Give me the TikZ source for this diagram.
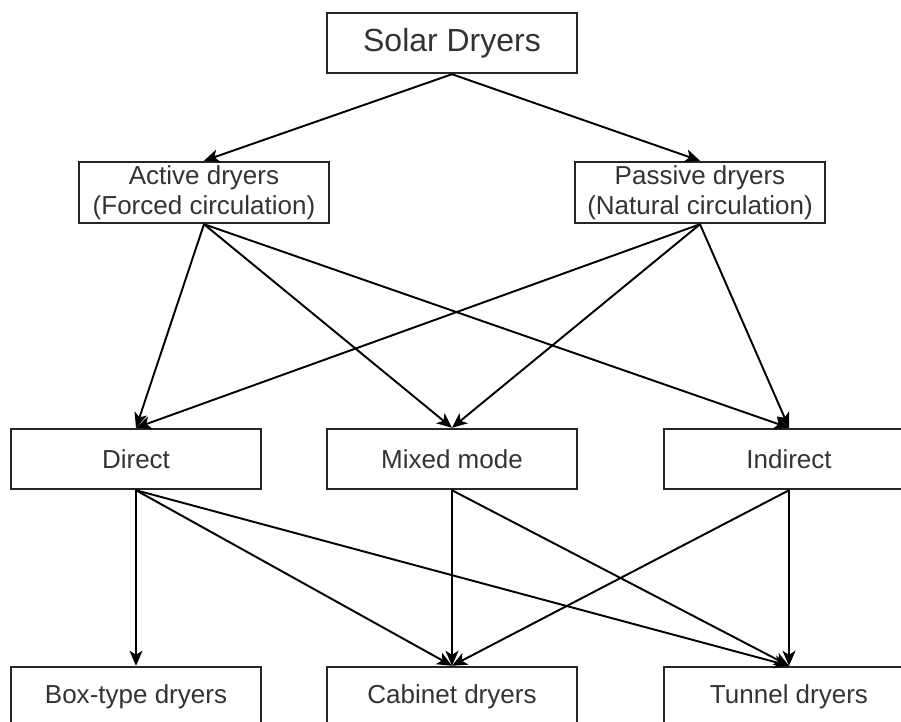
\documentclass[tikz,border=0pt]{standalone}
\usepackage{fontspec}
\setmainfont{Liberation Sans}
\usepackage{tikz}
\usetikzlibrary{positioning, arrows.meta}

\begin{document}
\begin{tikzpicture}[
  block/.style={
    rectangle, draw=black!85, line width=1.4pt, fill=white, minimum width=5cm,
    minimum height=1.2cm, inner sep=0pt, align=center, text=black!80,
    font=\fontsize{14.8}{17}\selectfont
  },
  title/.style={font=\fontsize{18.2}{21}\selectfont},
  arrow/.style={-{Stealth[length=3mm, width=2.6mm, inset=0.8mm]}, line width=1.1pt},
]
\useasboundingbox (0,0) rectangle (18.02,-14.44);

% ==================== NODES ====================
% Root
\node[block, title] (solar) at (9.04,-0.86) {Solar Dryers};

% Circulation
\node[block, minimum height=1.22cm] (active) at (4.08,-3.85) {Active dryers\\(Forced circulation)};
\node[block, minimum height=1.22cm] (passive) at (14.0,-3.85) {Passive dryers\\(Natural circulation)};

% Modes
\node[block] (direct) at (2.72,-9.18) {Direct};
\node[block] (mixed) at (9.04,-9.18) {Mixed mode};
\node[block] (indirect) at (15.78,-9.18) {Indirect};

% Dryer types
\node[block] (boxtype) at (2.72,-13.94) {Box-type dryers};
\node[block] (cabinet) at (9.04,-13.94) {Cabinet dryers};
\node[block] (tunnel) at (15.78,-13.94) {Tunnel dryers};

% ==================== CONNECTIONS ====================
% Root to circulation
\draw[arrow] (solar.south) -- (active.north);
\draw[arrow] (solar.south) -- (passive.north);

% Circulation to modes
\draw[arrow] (active.south) -- (direct.north);
\draw[arrow] (active.south) -- (mixed.north);
\draw[arrow] (active.south) -- (indirect.north);
\draw[arrow] (passive.south) -- (direct.north);
\draw[arrow] (passive.south) -- (mixed.north);
\draw[arrow] (passive.south) -- (indirect.north);

% Modes to dryer types
\draw[arrow] (direct.south) -- (boxtype.north);
\draw[arrow] (direct.south) -- (cabinet.north);
\draw[arrow] (direct.south) -- (tunnel.north);
\draw[arrow] (mixed.south) -- (cabinet.north);
\draw[arrow] (mixed.south) -- (tunnel.north);
\draw[arrow] (indirect.south) -- (cabinet.north);
\draw[arrow] (indirect.south) -- (tunnel.north);
\end{tikzpicture}
\end{document}
